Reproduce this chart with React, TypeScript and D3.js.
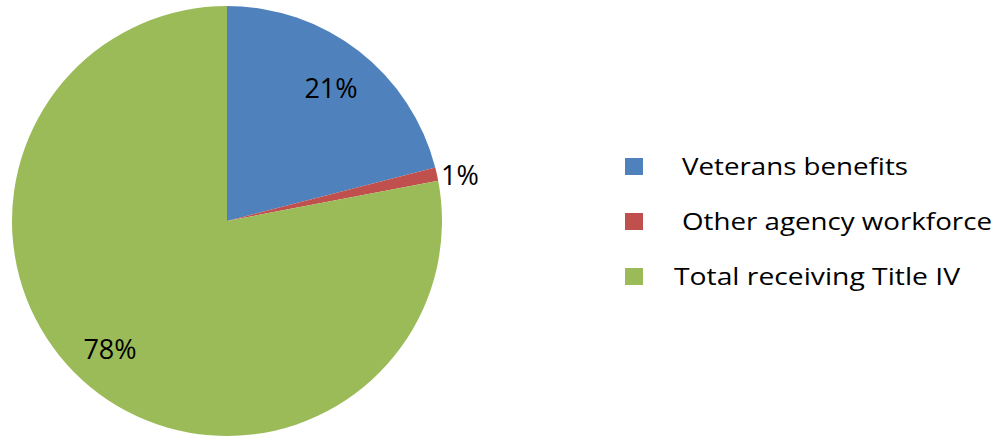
import React from "react";
import * as d3 from "d3";

const categories = ["Veterans benefits", "Other agency workforce", "Total receiving Title IV"];
const values = [21, 1, 78];
const labels = ["21%", "1%", "78%"];
const colors = ["#4F81BD", "#C0504D", "#9BBB59"];

export default function App() {
  const width = 1000;
  const height = 439;
  const cx = 227;
  const cy = 221;
  const r = 215;
  const pie = d3.pie<number>().sort(null).value((d) => d)(values);
  const arc = d3.arc<d3.PieArcDatum<number>>().innerRadius(0).outerRadius(r);
  const labelPos: [number, number][] = [
    [331, 98],
    [460, 185],
    [110, 359],
  ];
  const legendY = [175, 230, 285];
  const legendTextX = [682, 682, 674];
  const legendTextW = [226, 310, 286];
  const font = "'Open Sans', sans-serif";
  return (
    <svg
      width={width}
      height={height}
      style={{ position: "absolute", left: 0, top: 0, background: "#fff" }}
    >
      <g transform={`translate(${cx},${cy})`}>
        {pie.map((p, i) => (
          <path key={i} d={arc(p) || ""} fill={colors[i]} />
        ))}
      </g>
      {labels.map((t, i) => (
        <text
          key={i}
          x={labelPos[i][0]}
          y={labelPos[i][1]}
          textAnchor="middle"
          fontFamily={font}
          fontSize={27}
          fill="#000"
        >
          {t}
        </text>
      ))}
      {categories.map((c, i) => (
        <g key={c}>
          <rect x={625} y={legendY[i] - 17} width={18} height={17} fill={colors[i]} />
          <text
            x={legendTextX[i]}
            y={legendY[i]}
            fontFamily={font}
            fontSize={24}
            fill="#000"
            textLength={legendTextW[i]}
            lengthAdjust="spacingAndGlyphs"
          >
            {c}
          </text>
        </g>
      ))}
    </svg>
  );
}
